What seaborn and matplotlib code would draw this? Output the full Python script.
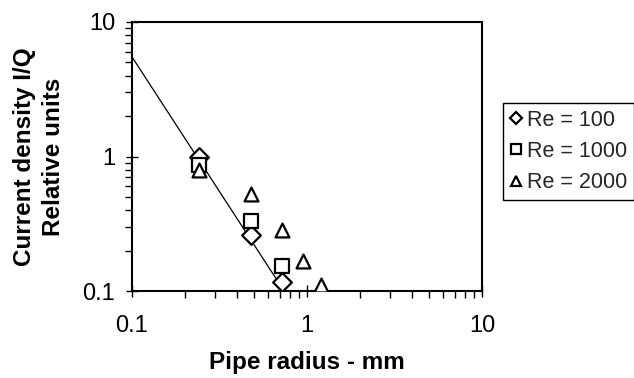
import matplotlib
matplotlib.use("Agg")
import matplotlib.pyplot as plt
import matplotlib.ticker as ticker
import seaborn as sns
import pandas as pd

# ---- data ----
re100_x = [0.24, 0.48, 0.72]
re100_y = [1.0, 0.26, 0.117]
re1000_x = [0.24, 0.48, 0.72]
re1000_y = [0.87, 0.33, 0.153]
re2000_x = [0.24, 0.48, 0.72, 0.95, 1.2]
re2000_y = [0.79, 0.53, 0.285, 0.168, 0.11]
fit_x = [0.1, 0.74]
fit_y = [5.5, 0.1]
series_labels = ["Re = 100", "Re = 1000", "Re = 2000"]
x_ticks = [0.1, 1, 10]
y_ticks = [0.1, 1, 10]

sns.set_theme(style="white")
plt.rcParams["font.family"] = ["Liberation Sans", "DejaVu Sans"]

fig = plt.figure(figsize=(6.34, 3.78), dpi=100)
ax = fig.add_axes([132/634, 1-291/378, 350/634, 269/378])

sns.lineplot(x=fit_x, y=fit_y, ax=ax, color="black", linewidth=0.9, zorder=2)

series = [
    (re100_x, re100_y, "D", 9.5, series_labels[0]),
    (re1000_x, re1000_y, "s", 9.5, series_labels[1]),
    (re2000_x, re2000_y, "^", 10, series_labels[2]),
]
handles = []
for xs, ys, m, ms, lab in series:
    df = pd.DataFrame({"x": xs, "y": ys})
    sns.scatterplot(data=df, x="x", y="y", ax=ax, marker=m, s=ms**2,
                    facecolor="white", edgecolor="black", linewidth=1.6, zorder=3)
    handles.append(plt.Line2D([], [], linestyle="none", marker=m,
                              markersize=6.5 if m != "D" else 6,
                              markerfacecolor="white", markeredgecolor="black",
                              markeredgewidth=1.6, label=lab))

ax.set_xscale("log")
ax.set_yscale("log")
ax.set_xlim(0.1, 10)
ax.set_ylim(0.1, 10)
ax.set_xticks(x_ticks)
ax.set_yticks(y_ticks)
fmt = ticker.FuncFormatter(lambda v, p: f"{v:g}")
ax.xaxis.set_major_formatter(fmt)
ax.yaxis.set_major_formatter(fmt)
ax.xaxis.set_minor_locator(ticker.LogLocator(base=10, subs=range(2, 10)))
ax.yaxis.set_minor_locator(ticker.LogLocator(base=10, subs=range(2, 10)))
ax.xaxis.set_minor_formatter(ticker.NullFormatter())
ax.yaxis.set_minor_formatter(ticker.NullFormatter())

ax.tick_params(axis="both", which="major", direction="inout", length=8, width=1.0,
               color="black", labelsize=17, labelcolor="black",
               bottom=True, left=True)
ax.tick_params(axis="x", which="major", pad=13)
ax.tick_params(axis="y", which="major", pad=8)
ax.tick_params(axis="both", which="minor", direction="out", length=5, width=1.0,
               color="black", bottom=True, left=True)

for sp in ax.spines.values():
    sp.set_color("black")
    sp.set_linewidth(1.5)

ax.set_xlabel("Pipe radius - mm", fontsize=17.5, fontweight="bold", color="black", labelpad=10)
ax.set_ylabel("Current density I/Q\nRelative units", fontsize=17.5, fontweight="bold",
              color="black", labelpad=13, linespacing=1.3)

leg = fig.legend(handles=handles, loc="upper left", bbox_to_anchor=(503/634, 1-103/378),
                 frameon=True, fancybox=False, framealpha=1, edgecolor="black",
                 fontsize=15.5, handlelength=0.6, handletextpad=0.2, labelspacing=0.47,
                 borderpad=0.32, borderaxespad=0)
leg.get_frame().set_linewidth(1.0)

fig.savefig("out.png", dpi=100)
